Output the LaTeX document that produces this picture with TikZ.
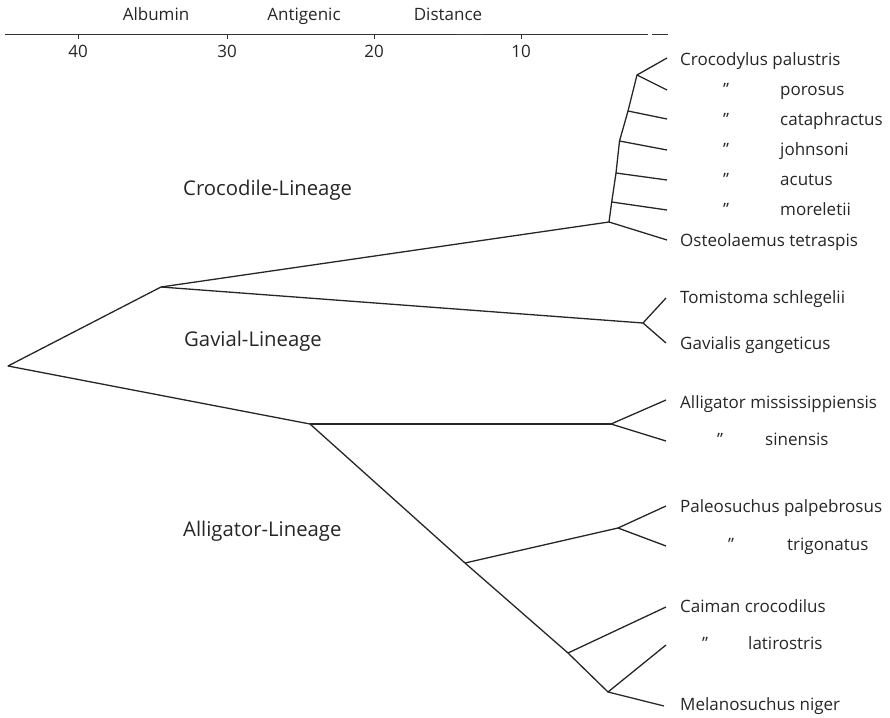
\documentclass[tikz,border=0pt]{standalone}
\usepackage{fontspec}
\setmainfont{Open Sans}
\begin{document}
\begin{tikzpicture}[x=1pt,y=-1pt,
  br/.style={line width=1.3pt,draw=black!85,line join=round},
  sp/.style={anchor=base west,inner sep=0pt,font=\fontsize{17}{19}\selectfont,text=black!85},
  lin/.style={anchor=base west,inner sep=0pt,font=\fontsize{20.3}{24}\selectfont,text=black!85},
  ax/.style={anchor=base,inner sep=0pt,font=\fontsize{17}{19}\selectfont,text=black!85}]
\useasboundingbox (0,0) rectangle (890,717);
% axis
\coordinate (axL) at (5,34);
\coordinate (axR) at (648,34);
\coordinate (axR2) at (652,34);
\coordinate (axE) at (668,34);
\draw[line width=0.9pt,black!80] (axL) -- (axR);
\draw[line width=0.9pt,black!80] (axR2) -- (axE);
\coordinate (thA) at (457,34.6);
\coordinate (thB) at (482,34.6);
\draw[line width=1.2pt,black!75] (thA) -- (thB);
\foreach \xx/\lab in {78/40,227/30,374/20,521/10}{
  \coordinate (tk\lab) at (\xx,34);
  \draw[line width=0.9pt,black!80] (tk\lab) -- ++(0,5);
  \node[ax] (n\lab) at (\xx,57) {\lab};
}
\node[ax] (alb) at (156,21) {Albumin};
\node[ax] (ant) at (304,21) {Antigenic};
\node[ax] (dis) at (448,21) {Distance};
% lineage labels
\node[lin] (lc) at (183,195) {Crocodile-Lineage};
\node[lin] (lg) at (184,346) {Gavial-Lineage};
\node[lin] (la) at (183,536) {Alligator-Lineage};
% internal nodes
\coordinate (root) at (8,366);
\coordinate (A) at (161,287);
\coordinate (CR) at (609,222);
\coordinate (t4) at (611.7,202);
\coordinate (t3) at (616,173);
\coordinate (t2) at (619.5,141);
\coordinate (t1) at (628,111);
\coordinate (top) at (637,75);
\coordinate (GV) at (643,323);
\coordinate (AL) at (310,424);
\coordinate (AM) at (611,424);
\coordinate (CP) at (465,563);
\coordinate (PA) at (618,528);
\coordinate (CA) at (568,653);
\coordinate (ME) at (608,692);
% tips
\coordinate (e1) at (667,58);
\coordinate (e2) at (667,90);
\coordinate (e3) at (667,119);
\coordinate (e4) at (667,150);
\coordinate (e5) at (667,180);
\coordinate (e6) at (667,210);
\coordinate (e7) at (667,240);
\coordinate (e8) at (666,298);
\coordinate (e9) at (666,343);
\coordinate (e10) at (666,400);
\coordinate (e11) at (666,441);
\coordinate (e12) at (666,506);
\coordinate (e13) at (666,546);
\coordinate (e14) at (666,607);
\coordinate (e15) at (666,645);
\coordinate (e16) at (664,706);
% branches
\draw[br] (A) -- (root) -- (AL);
\draw[br] (A) -- (CR);
\draw[br] (A) -- (GV);
\draw[br] (CR) -- (t4) -- (t3) -- (t2) -- (t1) -- (top);
\draw[br] (e1) -- (top) -- (e2);
\draw[br] (t1) -- (e3);
\draw[br] (t2) -- (e4);
\draw[br] (t3) -- (e5);
\draw[br] (t4) -- (e6);
\draw[br] (CR) -- (e7);
\draw[br] (e8) -- (GV) -- (e9);
\draw[br] (AL) -- (AM);
\draw[br] (e10) -- (AM) -- (e11);
\draw[br] (AL) -- (CP) -- (CA) -- (ME);
\draw[br] (CP) -- (PA);
\draw[br] (e12) -- (PA) -- (e13);
\draw[br] (CA) -- (e14);
\draw[br] (e15) -- (ME) -- (e16);
% species labels
\node[sp] (s1) at (680,65) {Crocodylus palustris};
\node[sp] (q2) at (723,95) {\symbol{34}};
\node[sp] (s2) at (780,95) {porosus};
\node[sp] (q3) at (723,125) {\symbol{34}};
\node[sp] (s3) at (780,125) {cataphractus};
\node[sp] (q4) at (723,155) {\symbol{34}};
\node[sp] (s4) at (780,155) {johnsoni};
\node[sp] (q5) at (723,185) {\symbol{34}};
\node[sp] (s5) at (780,185) {acutus};
\node[sp] (q6) at (723,215) {\symbol{34}};
\node[sp] (s6) at (780,215) {moreletii};
\node[sp] (s7) at (680,246) {Osteolaemus tetraspis};
\node[sp] (s8) at (680,303) {Tomistoma schlegelii};
\node[sp] (s9) at (680,349) {Gavialis gangeticus};
\node[sp] (s10) at (680,408) {Alligator mississippiensis};
\node[sp] (q11) at (717,445) {\symbol{34}};
\node[sp] (s11) at (765,445) {sinensis};
\node[sp] (s12) at (680,512) {Paleosuchus palpebrosus};
\node[sp] (q13) at (728,550) {\symbol{34}};
\node[sp] (s13) at (787,550) {trigonatus};
\node[sp] (s14) at (680,612) {Caiman crocodilus};
\node[sp] (q15) at (702,649) {\symbol{34}};
\node[sp] (s15) at (748,649) {latirostris};
\node[sp] (s16) at (680,710) {Melanosuchus niger};
\end{tikzpicture}
\end{document}
